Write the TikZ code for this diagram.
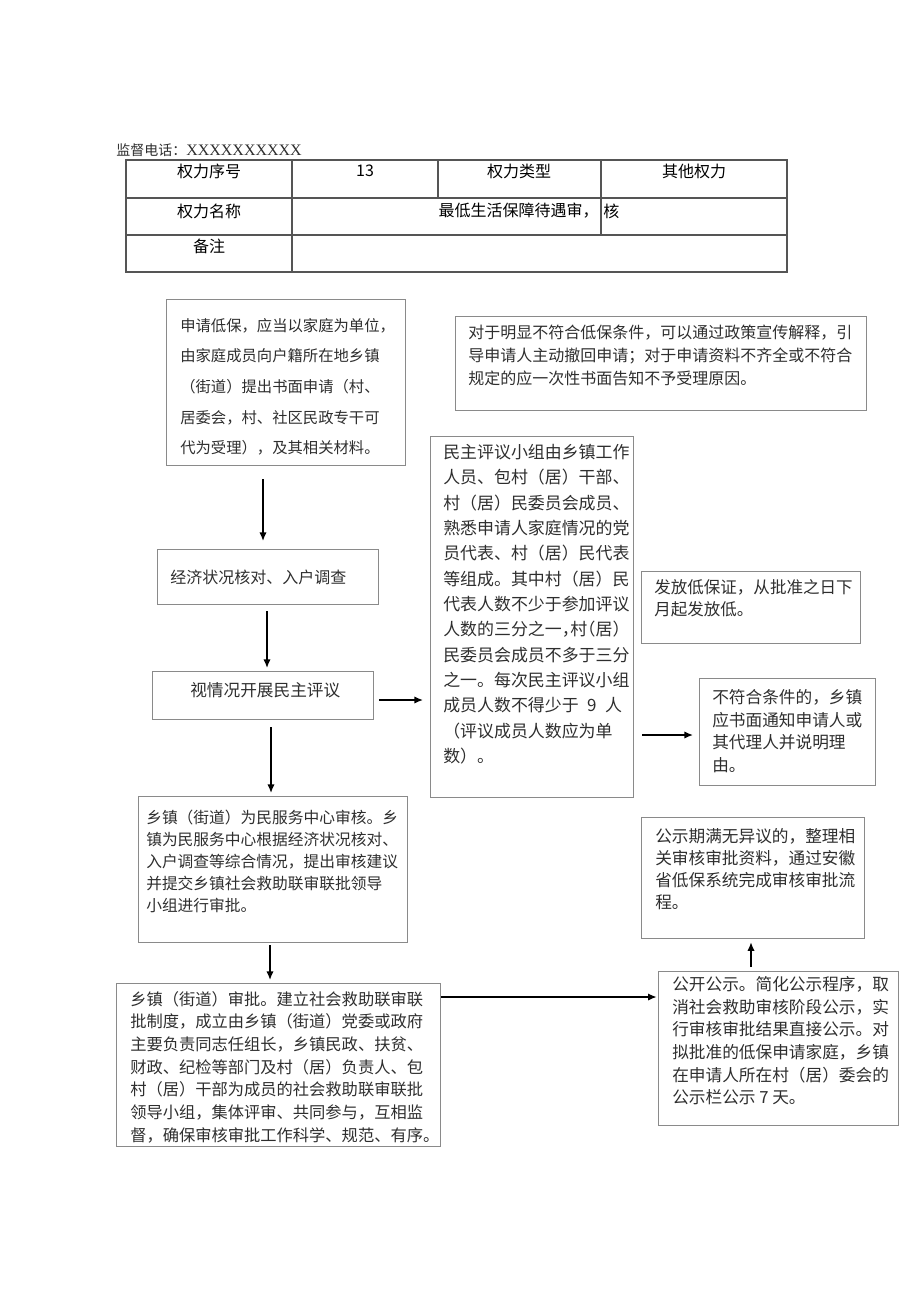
\documentclass[tikz,border=0pt]{standalone}
\usepackage{fontspec}
\setmainfont{Liberation Serif}
\newfontfamily\cjk{Noto Sans CJK SC}
\usepackage{xcolor}
\usepackage{tikz}
\usetikzlibrary{positioning,calc}
\usetikzlibrary{arrows.meta}
\definecolor{boxgray}{HTML}{8A8A8A}
\definecolor{tabgray}{HTML}{555555}
\definecolor{txtgray}{HTML}{2E2E2E}
\tikzset{
  panel/.style={draw=boxgray, line width=0.9pt, anchor=north west, inner sep=0pt},
  para/.style={anchor=north west, inner sep=0pt, align=left, text=txtgray},
  cell/.style={inner sep=0pt, font=\cjk\fontsize{12}{14}\selectfont},
  arr/.style={-{Latex[length=6.5pt,width=5.5pt]}, line width=1.1pt},
  tab/.style={draw=tabgray, line width=0.8pt}
}

\begin{document}
\begin{tikzpicture}[x=0.75pt,y=-0.75pt]
\useasboundingbox (0,0) rectangle (920,1301);
% header and table
\node[anchor=west, inner sep=0pt, text=txtgray] (tel) at (116,150) {\cjk\fontsize{10.5}{12}\selectfont 监督电话：\rmfamily\fontsize{12}{12}\selectfont XXXXXXXXXX};
\draw[tab] (126,160) rectangle (787,272);
\draw[tab] (126,198) -- (787,198) (126,235) -- (787,235);
\draw[tab] (292,160) -- (292,272) (438,160) -- (438,198) (601,160) -- (601,235);
\node[cell] (c11) at (209,171) {权力序号};
\node[cell] (c12) at (365,171) {13};
\node[cell] (c13) at (519,171) {权力类型};
\node[cell] (c14) at (694,171) {其他权力};
\node[cell] (c21) at (209,211) {权力名称};
\node[cell, anchor=east] (c22) at (599,211) {最低生活保障待遇审，};
\node[cell, anchor=west] (c23) at (603,211) {核};
\node[cell] (c31) at (209,246) {备注};
% boxes
\node[panel, minimum width=239*0.75pt, minimum height=166*0.75pt] (b1) at (166,299) {};
\node[para, font=\cjk\fontsize{11.5}{23}\selectfont] (t1) at (180,318) {申请低保，应当以家庭为单位，\\由家庭成员向户籍所在地乡镇\\（街道）提出书面申请（村、\\居委会，村、社区民政专干可\\代为受理），及其相关材料。};
\node[panel, minimum width=411*0.75pt, minimum height=94*0.75pt] (bt) at (455,316) {};
\node[para, font=\cjk\fontsize{12}{17}\selectfont] (tt) at (468,325) {对于明显不符合低保条件，可以通过政策宣传解释，引\\导申请人主动撤回申请；对于申请资料不齐全或不符合\\规定的应一次性书面告知不予受理原因。};
\node[panel, minimum width=221*0.75pt, minimum height=55*0.75pt] (b2) at (157,549) {};
\node[para, font=\cjk\fontsize{12}{17}\selectfont] (t2) at (170,570) {经济状况核对、入户调查};
\node[panel, minimum width=221*0.75pt, minimum height=48*0.75pt] (b3) at (152,671) {};
\node[para, font=\cjk\fontsize{12.5}{17}\selectfont] (t3) at (190,682) {视情况开展民主评议};
\node[panel, minimum width=203*0.75pt, minimum height=361*0.75pt] (bm) at (430,436) {};
\node[para, font=\cjk\fontsize{12.7}{19}\selectfont] (tm) at (443,444) {民主评议小组由乡镇工作\\人员、包村（居）干部、\\村（居）民委员会成员、\\熟悉申请人家庭情况的党\\员代表、村（居）民代表\\等组成。其中村（居）民\\代表人数不少于参加评议\\人数的三分之一\makebox[0.5em][l]{，}村\makebox[0.5em][r]{（}居\makebox[0.5em][l]{）}\\民委员会成员不多于三分\\之一。每次民主评议小组\\成员人数不得少于\enspace 9\enspace 人\\（评议成员人数应为单\\数）。};
\node[panel, minimum width=219*0.75pt, minimum height=72*0.75pt] (bf) at (641,571) {};
\node[para, font=\cjk\fontsize{12.4}{16.5}\selectfont] (tf) at (654,579) {发放低保证，从批准之日下\\月起发放低。};
\node[panel, minimum width=176*0.75pt, minimum height=107*0.75pt] (bn) at (699,678) {};
\node[para, font=\cjk\fontsize{12.5}{17}\selectfont] (tn) at (712,689) {不符合条件的，乡镇\\应书面通知申请人或\\其代理人并说明理\\由。};
\node[panel, minimum width=269*0.75pt, minimum height=146*0.75pt] (b4) at (138,796) {};
\node[para, font=\cjk\fontsize{11.8}{16.5}\selectfont] (t4) at (146,810) {乡镇（街道）为民服务中心审核。乡\\镇为民服务中心根据经济状况核对、\\入户调查等综合情况，提出审核建议\\并提交乡镇社会救助联审联批领导\\小组进行审批。};
\node[panel, minimum width=223*0.75pt, minimum height=121*0.75pt] (bg) at (641,817) {};
\node[para, font=\cjk\fontsize{12.5}{16.5}\selectfont] (tg) at (655,828) {公示期满无异议的，整理相\\关审核审批资料，通过安徽\\省低保系统完成审核审批流\\程。};
\node[panel, minimum width=324*0.75pt, minimum height=163*0.75pt] (b5) at (116,983) {};
\node[para, font=\cjk\fontsize{12.2}{17}\selectfont] (t5) at (130,991) {乡镇（街道）审批。建立社会救助联审联\\批制度，成立由乡镇（街道）党委或政府\\主要负责同志任组长，乡镇民政、扶贫、\\财政、纪检等部门及村（居）负责人、包\\村（居）干部为成员的社会救助联审联批\\领导小组，集体评审、共同参与，互相监\\督，确保审核审批工作科学、规范、有序。};
\node[panel, minimum width=240*0.75pt, minimum height=154*0.75pt] (bk) at (658,971) {};
\node[para, font=\cjk\fontsize{12.5}{17}\selectfont] (tk) at (672,976) {公开公示。简化公示程序，取\\消社会救助审核阶段公示，实\\行审核审批结果直接公示。对\\拟批准的低保申请家庭，乡镇\\在申请人所在村（居）委会的\\公示栏公示 7 天。};
% arrows
\coordinate (x1) at (263,0);
\coordinate (x2) at (267,0);
\coordinate (x3) at (271,0);
\coordinate (x4) at (270,0);
\coordinate (x5) at (751,0);
\coordinate (y1) at (0,700);
\coordinate (y2) at (0,735);
\coordinate (y3) at (0,997);
\draw[arr, shorten <=9.75pt, shorten >=6pt] (b1.south -| x1) -- (b2.north -| x1);
\draw[arr, shorten <=4.5pt, shorten >=2.25pt] (b2.south -| x2) -- (b3.north -| x2);
\draw[arr, shorten <=5.25pt, shorten >=2.25pt] (b3.south -| x3) -- (b4.north -| x3);
\draw[arr, shorten <=1.5pt, shorten >=2.25pt] (b4.south -| x4) -- (b5.north -| x4);
\draw[arr, shorten <=3.75pt, shorten >=5.25pt] (b3.east |- y1) -- (bm.west |- y1);
\draw[arr, shorten <=6pt, shorten >=4.5pt] (bm.east |- y2) -- (bn.west |- y2);
\draw[arr, shorten >=1pt] (b5.east |- y3) -- (bk.west |- y3);
\draw[arr, shorten <=3pt, shorten >=2.25pt] (bk.north -| x5) -- (bg.south -| x5);
\end{tikzpicture}
\end{document}
